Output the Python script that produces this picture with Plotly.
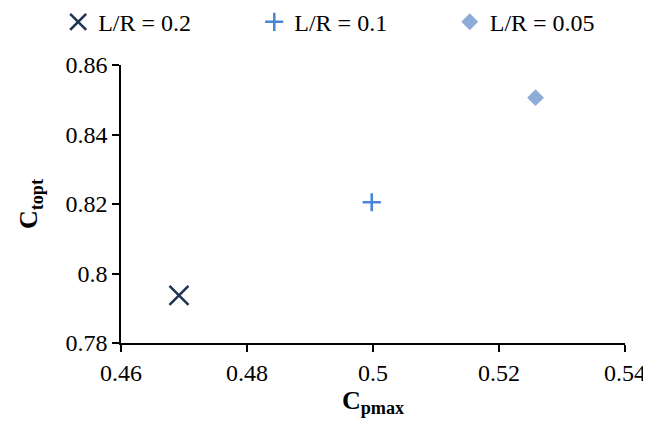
import plotly.graph_objects as go

series_names = ["L/R = 0.2", "L/R = 0.1", "L/R = 0.05"]
cpmax = [0.4692, 0.4998, 0.5258]
ctopt = [0.7937, 0.8205, 0.8506]
x_ticks = [0.46, 0.48, 0.50, 0.52, 0.54]
x_tick_labels = ["0.46", "0.48", "0.5", "0.52", "0.54"]
y_ticks = [0.78, 0.80, 0.82, 0.84, 0.86]
y_tick_labels = ["0.78", "0.8", "0.82", "0.84", "0.86"]

symbols = ["x-thin-open", "cross-thin-open", "diamond"]
colors = ["#1F3551", "#4A86D6", "#8EACD8"]
sizes = [19, 13, 13]
legend_ids = ["legend", "legend2", "legend3"]
legend_x = [0.078, 0.383, 0.687]

FONT = "Liberation Serif, Times New Roman, serif"
FS = 24

fig = go.Figure()
for name, x, y, sym, col, sz, lid in zip(series_names, cpmax, ctopt, symbols, colors, sizes, legend_ids):
    fig.add_trace(go.Scatter(
        x=[x], y=[y], mode="markers", name=name, legend=lid,
        marker=dict(symbol=sym, color=col, size=sz,
                    line=dict(color=col, width=2.6 if "thin" in sym else 0)),
    ))

axis_common = dict(
    showgrid=False, zeroline=False, showline=True, linecolor="black", linewidth=1.5,
    ticks="outside", ticklen=7, tickwidth=1.5, tickcolor="black",
    tickfont=dict(family=FONT, size=FS, color="black"), mirror=False,
)
fig.update_xaxes(range=[0.46, 0.54], tickvals=x_ticks, ticktext=x_tick_labels,
                 title=dict(text="<b>C<sub>pmax</sub></b>", font=dict(family=FONT, size=26, color="black"), standoff=4),
                 **axis_common)
fig.update_yaxes(range=[0.78, 0.86], tickvals=y_ticks, ticktext=y_tick_labels,
                 title=dict(text="<b>C<sub>topt</sub></b>", font=dict(family=FONT, size=26, color="black"), standoff=20),
                 **axis_common)

# page body has an 8px default margin; size/margins compensate for it
fig.update_layout(
    width=643, height=418,
    margin=dict(l=113, r=26, t=57, b=83, autoexpand=False),
    paper_bgcolor="white", plot_bgcolor="white",
    font=dict(family=FONT, size=FS, color="black"),
    showlegend=True,
)
for lid, lx in zip(legend_ids, legend_x):
    fig.update_layout({lid: dict(orientation="h", xref="container", x=lx, xanchor="left",
                                 yref="container", y=0.966, yanchor="middle",
                                 itemwidth=30, bgcolor="rgba(0,0,0,0)",
                                 font=dict(family=FONT, size=FS, color="black"))})

fig.write_html("out.html")
